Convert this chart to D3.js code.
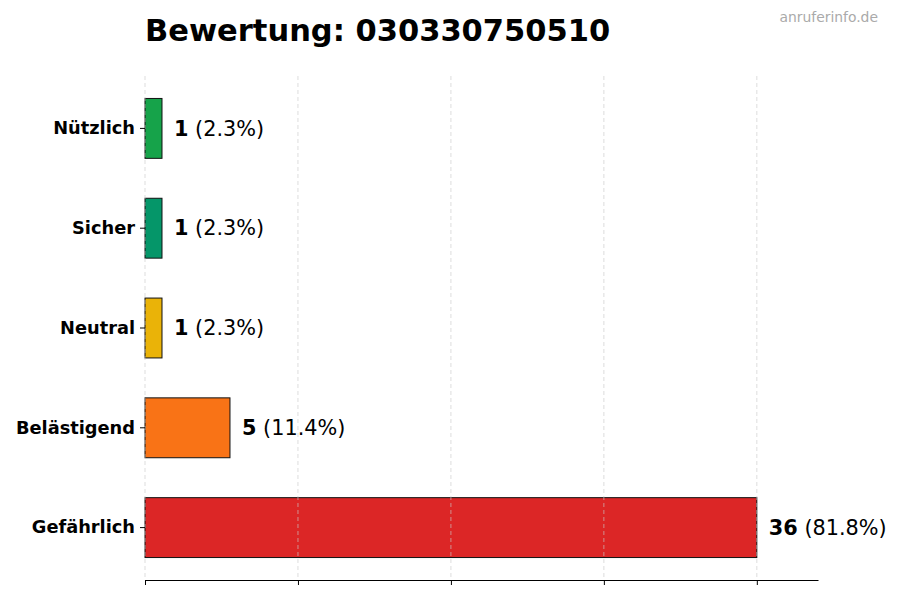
<!DOCTYPE html>
<html>
<head>
<meta charset="utf-8">
<script src="https://cdn.jsdelivr.net/npm/d3@7"></script>
<style>
	body { margin: 0; background: #fff; }
	text { font-family: "DejaVu Sans", sans-serif; }
</style>
</head>
<body>
<div id="chart"></div>
<script>
var categories = ["Nützlich", "Sicher", "Neutral", "Belästigend", "Gefährlich"];
var counts = [1, 1, 1, 5, 36];
var percents = ["2.3%", "2.3%", "2.3%", "11.4%", "81.8%"];
var colors = ["#16a34a", "#059669", "#eab308", "#f97316", "#dc2626"];
var xTicks = [0, 9, 18, 27, 36];

var width = 900, height = 600;
var margin = {top: 76, right: 82, bottom: 20, left: 145};

var svg = d3.select("#chart").append("svg")
	.attr("width", width)
	.attr("height", height);

var x = d3.scaleLinear()
	.domain([0, d3.max(counts) * 1.1])
	.range([margin.left, width - margin.right]);

var y = d3.scaleBand()
	.domain(categories)
	.range([margin.top + 2.5, height - margin.bottom - 2.5])
	.paddingInner(0.4)
	.paddingOuter(0.2);

var data = categories.map(function(c, i) {
	return {name: c, value: counts[i], pct: percents[i], color: colors[i]};
});

// bars
svg.append("g").selectAll("rect")
	.data(data)
	.enter()
	.append("rect")
	.attr("x", x(0))
	.attr("y", function(d) { return y(d.name); })
	.attr("width", function(d) { return x(d.value) - x(0); })
	.attr("height", y.bandwidth())
	.attr("fill", function(d) { return d.color; })
	.attr("stroke", "#111")
	.attr("stroke-width", 1);

// grid lines drawn over the bars
svg.append("g").selectAll("line")
	.data(xTicks)
	.enter()
	.append("line")
	.attr("x1", function(d) { return x(d); })
	.attr("x2", function(d) { return x(d); })
	.attr("y1", margin.top)
	.attr("y2", height - margin.bottom)
	.attr("stroke", "#cccccc")
	.attr("stroke-width", 0.8)
	.attr("stroke-dasharray", "4,3")
	.attr("opacity", 0.8);

// bottom axis, no labels
var xAxis = svg.append("g")
	.attr("transform", "translate(0," + (height - margin.bottom) + ")")
	.call(d3.axisBottom(x).tickValues(xTicks).tickFormat("").tickSize(5).tickSizeOuter(0));
xAxis.select(".domain").attr("stroke", "#000").attr("stroke-width", 1.2);
xAxis.selectAll(".tick line").attr("stroke", "#000");

// left axis: ticks and labels only
var yAxis = svg.append("g")
	.attr("transform", "translate(" + margin.left + ",0)")
	.call(d3.axisLeft(y).tickSize(5).tickPadding(5));
yAxis.select(".domain").remove();
yAxis.selectAll(".tick line").attr("stroke", "#000");
yAxis.selectAll(".tick text")
	.attr("font-family", "DejaVu Sans, sans-serif")
	.attr("font-size", 17.8)
	.attr("font-weight", "bold")
	.attr("fill", "#000");

// value labels
var labels = svg.append("g").selectAll("text")
	.data(data)
	.enter()
	.append("text")
	.attr("x", function(d) { return x(d.value) + 12; })
	.attr("y", function(d) { return y(d.name) + y.bandwidth() / 2; })
	.attr("dy", "0.35em")
	.attr("font-size", 20.8)
	.attr("fill", "#000");
labels.append("tspan")
	.attr("font-weight", "bold")
	.text(function(d) { return d.value; });
labels.append("tspan")
	.text(function(d) { return " (" + d.pct + ")"; });

// title
svg.append("text")
	.attr("x", margin.left)
	.attr("y", 41)
	.attr("font-size", 30.5)
	.attr("font-weight", "bold")
	.attr("fill", "#000")
	.text("Bewertung: 030330750510");

// watermark
svg.append("text")
	.attr("x", 878)
	.attr("y", 22)
	.attr("text-anchor", "end")
	.attr("font-size", 13.9)
	.attr("fill", "#aaaaaa")
	.text("anruferinfo.de");
</script>
</body>
</html>
